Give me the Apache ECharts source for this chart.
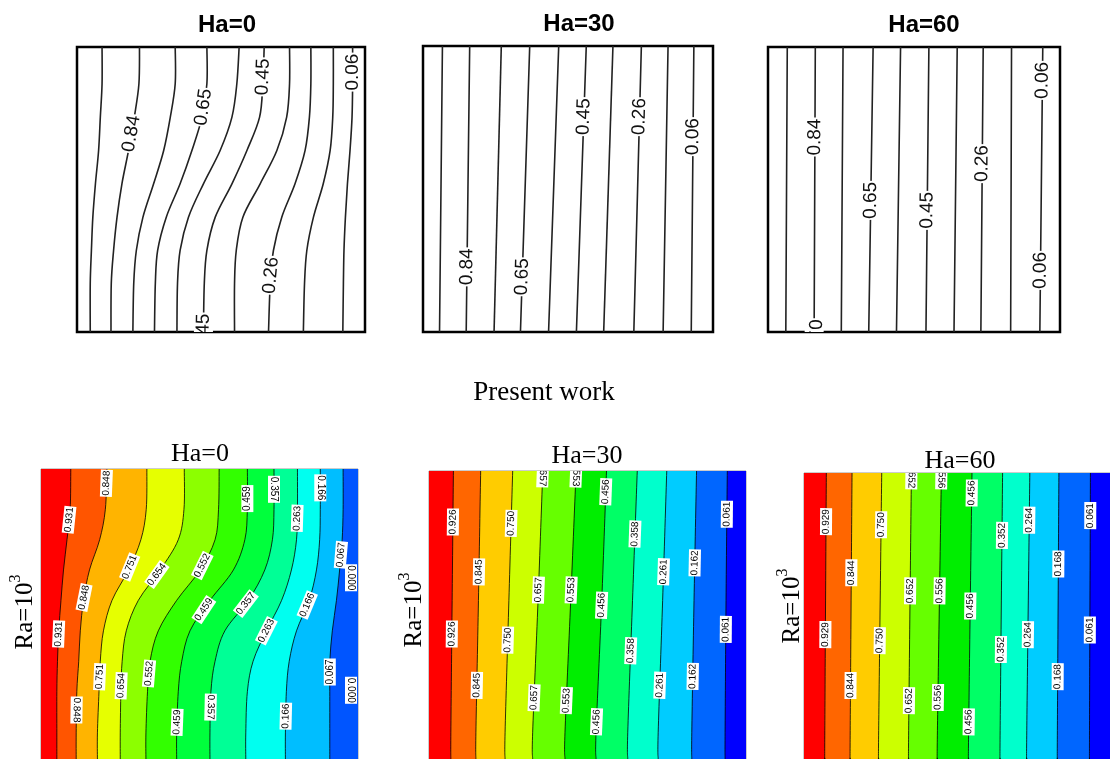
<!DOCTYPE html>
<html>
<head>
<meta charset="utf-8">
<script src="https://cdn.jsdelivr.net/npm/echarts@6/dist/echarts.min.js"></script>
<style>
html,body{margin:0;padding:0;background:#fff;}
#main{width:1110px;height:759px;}
</style>
</head>
<body>
<div id="main"></div>
<script>
// Isotherms in a square cavity: x = 0 hot wall .. 1 cold wall, y = 0 bottom .. 1 top.
// Each contour is a list of x positions at the shared y stations of its panel.

// ---- Published results (line contours) ----
const litLevels = [0.94, 0.84, 0.75, 0.65, 0.55, 0.45, 0.35, 0.26, 0.16, 0.06];

const litYs_Ha0 = [1, 0.871, 0.754, 0.637, 0.520, 0.403, 0.286, 0.170, 0];
const litXs_Ha0 = [
  [0.087, 0.087, 0.081, 0.075, 0.064, 0.055, 0.050, 0.046, 0.046],
  [0.217, 0.215, 0.199, 0.179, 0.156, 0.139, 0.127, 0.119, 0.118],
  [0.341, 0.341, 0.324, 0.301, 0.266, 0.229, 0.206, 0.197, 0.194],
  [0.451, 0.451, 0.434, 0.399, 0.358, 0.310, 0.280, 0.272, 0.269],
  [0.563, 0.555, 0.538, 0.497, 0.439, 0.387, 0.358, 0.349, 0.347],
  [0.650, 0.645, 0.634, 0.590, 0.538, 0.480, 0.451, 0.442, 0.439],
  [0.738, 0.738, 0.728, 0.694, 0.636, 0.576, 0.553, 0.547, 0.547],
  [0.812, 0.812, 0.807, 0.792, 0.757, 0.711, 0.682, 0.671, 0.665],
  [0.890, 0.890, 0.888, 0.879, 0.855, 0.821, 0.798, 0.790, 0.786],
  [0.957, 0.957, 0.955, 0.948, 0.939, 0.932, 0.927, 0.925, 0.923]
];
// [contour index, y, flipped]
const litLabels_Ha0 = [[1, 0.696, 0], [3, 0.789, 0], [5, 0.895, 0], [9, 0.912, 0], [7, 0.199, 0], [5, 0.0, 0]];

const litYs_Ha30 = [1, 0];
const litXs_Ha30 = [
  [0.067, 0.057], [0.161, 0.149], [0.270, 0.245], [0.368, 0.336], [0.468, 0.433],
  [0.563, 0.529], [0.655, 0.623], [0.753, 0.727], [0.845, 0.828], [0.934, 0.925]
];
const litLabels_Ha30 = [[1, 0.228, 0], [3, 0.193, 0], [5, 0.753, 0], [7, 0.753, 0], [9, 0.683, 0]];

const litYs_Ha60 = [1, 0];
const litXs_Ha60 = [
  [0.066, 0.061], [0.162, 0.158], [0.257, 0.251], [0.360, 0.345], [0.454, 0.440],
  [0.551, 0.541], [0.648, 0.637], [0.737, 0.729], [0.834, 0.831], [0.941, 0.931]
];
const litLabels_Ha60 = [[1, 0.684, 0], [3, 0.462, 0], [5, 0.427, 0], [7, 0.591, 0], [9, 0.883, 0], [9, 0.216, 0], [1, -0.02, 1]];

// ---- Present work (filled contours) ----
const presLevels_Ha0 = [0.931, 0.848, 0.751, 0.654, 0.552, 0.459, 0.357, 0.263, 0.166, 0.067, 0.000];
const presYs_Ha0 = [1, 0.861, 0.756, 0.652, 0.547, 0.442, 0.337, 0.232, 0.09, 0];
const presXs_Ha0 = [
  [0.094, 0.092, 0.082, 0.071, 0.063, 0.056, 0.052, 0.050, 0.050, 0.050],
  [0.208, 0.203, 0.185, 0.153, 0.134, 0.124, 0.119, 0.113, 0.111, 0.111],
  [0.334, 0.332, 0.315, 0.276, 0.224, 0.197, 0.187, 0.183, 0.178, 0.178],
  [0.452, 0.451, 0.433, 0.376, 0.307, 0.269, 0.256, 0.252, 0.250, 0.250],
  [0.562, 0.560, 0.549, 0.502, 0.428, 0.370, 0.344, 0.336, 0.331, 0.331],
  [0.651, 0.651, 0.643, 0.607, 0.533, 0.470, 0.444, 0.433, 0.428, 0.428],
  [0.735, 0.735, 0.730, 0.706, 0.654, 0.580, 0.549, 0.536, 0.533, 0.533],
  [0.809, 0.809, 0.806, 0.790, 0.759, 0.711, 0.669, 0.651, 0.646, 0.646],
  [0.881, 0.881, 0.879, 0.869, 0.846, 0.806, 0.783, 0.774, 0.771, 0.771],
  [0.953, 0.953, 0.950, 0.942, 0.932, 0.919, 0.911, 0.911, 0.911, 0.911]
];
const presLabels_Ha0 = [
  [1, 0.951, 0], [5, 0.898, 0], [6, 0.930, 1], [8, 0.935, 1],
  [0, 0.825, 0], [7, 0.830, 0], [9, 0.704, 0], [10, 0.625, 1],
  [2, 0.662, 0], [3, 0.636, 0], [4, 0.667, 0],
  [1, 0.557, 0], [5, 0.515, 0], [6, 0.536, 0], [8, 0.531, 0],
  [0, 0.431, 0], [7, 0.442, 0],
  [2, 0.284, 0], [3, 0.253, 0], [4, 0.295, 0], [9, 0.300, 0], [10, 0.237, 1],
  [1, 0.169, 1], [5, 0.127, 0], [6, 0.179, 1], [8, 0.148, 0]
];

const presLevels_Ha30 = [0.926, 0.845, 0.750, 0.657, 0.553, 0.456, 0.358, 0.261, 0.162, 0.061];
const presYs_Ha30 = [1, 0.55, 0.093, 0];
const presXs_Ha30 = [
  [0.077, 0.073, 0.069, 0.069],
  [0.163, 0.156, 0.148, 0.148],
  [0.264, 0.252, 0.240, 0.240],
  [0.359, 0.344, 0.327, 0.327],
  [0.464, 0.447, 0.429, 0.429],
  [0.560, 0.545, 0.527, 0.527],
  [0.657, 0.642, 0.627, 0.627],
  [0.750, 0.737, 0.723, 0.723],
  [0.844, 0.836, 0.829, 0.829],
  [0.941, 0.937, 0.934, 0.934]
];
const presLabels_Ha30 = [
  [0, 0.823, 0], [0, 0.434, 0], [1, 0.650, 0], [1, 0.256, 0], [2, 0.818, 0], [2, 0.413, 0],
  [3, 0.99, 1], [3, 0.587, 0], [3, 0.213, 0], [4, 0.99, 1], [4, 0.587, 0], [4, 0.203, 0],
  [5, 0.928, 0], [5, 0.534, 0], [5, 0.129, 0], [6, 0.781, 0], [6, 0.376, 0],
  [7, 0.650, 0], [7, 0.256, 0], [8, 0.681, 0], [8, 0.287, 0], [9, 0.850, 0], [9, 0.450, 0]
];

const presLevels_Ha60 = [0.929, 0.844, 0.750, 0.652, 0.556, 0.456, 0.352, 0.264, 0.168, 0.061];
const presYs_Ha60 = [1, 0.099, 0];
const presXs_Ha60 = [
  [0.073, 0.068, 0.068], [0.157, 0.151, 0.151], [0.254, 0.244, 0.244], [0.351, 0.342, 0.342],
  [0.449, 0.436, 0.436], [0.549, 0.538, 0.538], [0.649, 0.641, 0.641], [0.738, 0.728, 0.728],
  [0.833, 0.828, 0.828], [0.936, 0.933, 0.933]
];
const presLabels_Ha60 = [
  [0, 0.830, 0], [0, 0.435, 0], [1, 0.651, 0], [1, 0.257, 0], [2, 0.819, 0], [2, 0.414, 0],
  [3, 0.99, 1], [3, 0.588, 0], [3, 0.204, 0], [4, 0.99, 1], [4, 0.588, 0], [4, 0.215, 0],
  [5, 0.930, 0], [5, 0.535, 0], [5, 0.130, 0], [6, 0.782, 0], [6, 0.383, 0],
  [7, 0.835, 0], [7, 0.435, 0], [8, 0.682, 0], [8, 0.288, 0], [9, 0.851, 0], [9, 0.451, 0]
];

// Band fills, hot wall to cold wall
const fillsHa0 = ['#FF0000', '#FF5500', '#FFB400', '#E6FF00', '#8CFF00', '#32FF00', '#00FF3C', '#00FF96', '#00FFF0', '#00BEFF', '#0055FF'];
const fillsHa = ['#FF0000', '#FF6600', '#FFCC00', '#CCFF00', '#66FF00', '#00EE00', '#00FF66', '#00FFCC', '#00CCFF', '#0066FF', '#0000FF'];

const SANS = '"Liberation Sans", Arial, sans-serif';
const SERIF = '"Liberation Serif", "Times New Roman", serif';

const panels = [
  { ys: litYs_Ha0, xs: litXs_Ha0, levels: litLevels, labels: litLabels_Ha0, digits: 2, filled: false, rect: [77, 47, 288, 285] },
  { ys: litYs_Ha30, xs: litXs_Ha30, levels: litLevels, labels: litLabels_Ha30, digits: 2, filled: false, rect: [423, 46, 290, 286] },
  { ys: litYs_Ha60, xs: litXs_Ha60, levels: litLevels, labels: litLabels_Ha60, digits: 2, filled: false, rect: [768, 47, 292, 285] },
  { ys: presYs_Ha0, xs: presXs_Ha0, levels: presLevels_Ha0, labels: presLabels_Ha0, digits: 3, filled: true, fills: fillsHa0, rect: [41, 469, 317, 317] },
  { ys: presYs_Ha30, xs: presXs_Ha30, levels: presLevels_Ha30, labels: presLabels_Ha30, digits: 3, filled: true, fills: fillsHa, rect: [429, 471, 317, 317] },
  { ys: presYs_Ha60, xs: presXs_Ha60, levels: presLevels_Ha60, labels: presLabels_Ha60, digits: 3, filled: true, fills: fillsHa, rect: [804, 473, 317, 317] }
];

// Pixel points of boundary i: -1 = left wall, xs.length = right wall
function boundary(p, i, api) {
  if (i < 0) return [api.coord([0, 1]), api.coord([0, 0])];
  if (i >= p.xs.length) return [api.coord([1, 1]), api.coord([1, 0])];
  return p.ys.map((y, k) => api.coord([p.xs[i][k], y]));
}

// Smooth (Catmull-Rom) path through pixel points
function curve(pts, start) {
  let d = (start ? 'M' : 'L') + pts[0][0] + ',' + pts[0][1];
  for (let i = 0; i < pts.length - 1; i++) {
    const p0 = pts[i - 1] || pts[i], p1 = pts[i], p2 = pts[i + 1], p3 = pts[i + 2] || pts[i + 1];
    const c1 = [p1[0] + (p2[0] - p0[0]) / 6, p1[1] + (p2[1] - p0[1]) / 6];
    const c2 = [p2[0] - (p3[0] - p1[0]) / 6, p2[1] - (p3[1] - p1[1]) / 6];
    d += 'C' + c1[0] + ',' + c1[1] + ' ' + c2[0] + ',' + c2[1] + ' ' + p2[0] + ',' + p2[1];
  }
  return d;
}

function bandSeries(p, gi) {
  return {
    type: 'custom', xAxisIndex: gi, yAxisIndex: gi, clip: true, silent: true, z: 1,
    data: p.fills.map((c, i) => [i]),
    renderItem: function (params, api) {
      const i = api.value(0);
      const left = boundary(p, i - 1, api);
      const right = boundary(p, p.xs.length, api);
      const d = curve(left, true) + 'L' + right[1][0] + ',' + right[1][1] + 'L' + right[0][0] + ',' + right[0][1] + 'Z';
      return { type: 'path', shape: { pathData: d }, style: { fill: p.fills[i], stroke: 'none' } };
    }
  };
}

function lineSeries(p, gi) {
  return {
    type: 'custom', xAxisIndex: gi, yAxisIndex: gi, clip: true, silent: true, z: 2,
    data: p.xs.map((c, i) => [i]),
    renderItem: function (params, api) {
      const i = api.value(0);
      return {
        type: 'path', shape: { pathData: curve(boundary(p, i, api), true) },
        style: p.filled
          ? { fill: 'none', stroke: '#000', lineWidth: 0.8 }
          : { fill: 'none', stroke: '#222', lineWidth: 1.6 }
      };
    }
  };
}

function labelSeries(p, gi) {
  return {
    type: 'custom', xAxisIndex: gi, yAxisIndex: gi, clip: true, silent: true, z: 3,
    data: p.labels,
    renderItem: function (params, api) {
      const idx = api.value(0), y = api.value(1), flip = api.value(2);
      let pos, ang;
      if (idx >= p.xs.length) {
        pos = api.coord([1, y]);
        pos = [pos[0] - 7, pos[1]];
        ang = Math.PI / 2;
      } else {
        const ys = p.ys, xs = p.xs[idx];
        let k = 0;
        while (k < ys.length - 2 && y < ys[k + 1]) k++;
        const t = Math.max(0, Math.min(1, (ys[k] - y) / (ys[k] - ys[k + 1])));
        const x = xs[k] + t * (xs[k + 1] - xs[k]);
        pos = api.coord([x, y]);
        const up = api.coord([xs[k], ys[k]]), dn = api.coord([xs[k + 1], ys[k + 1]]);
        ang = Math.atan2(-(up[1] - dn[1]), up[0] - dn[0]);
      }
      if (flip) ang -= Math.PI;
      return {
        type: 'text', x: pos[0], y: pos[1], rotation: ang,
        style: p.filled ? {
          text: p.levels[idx].toFixed(p.digits), x: 0, y: 0, align: 'center', verticalAlign: 'middle',
          font: '10px ' + SANS, fill: '#000', backgroundColor: '#fff', padding: [1, 1, 1, 1]
        } : {
          text: p.levels[idx].toFixed(p.digits), x: 0, y: 0, align: 'center', verticalAlign: 'middle',
          font: '19px ' + SANS, fill: '#111', backgroundColor: '#fff', padding: [0, 1, 0, 1]
        }
      };
    }
  };
}

const grids = [], xAxes = [], yAxes = [], series = [];
panels.forEach((p, gi) => {
  grids.push({
    left: p.rect[0], top: p.rect[1], width: p.rect[2], height: p.rect[3],
    show: true, backgroundColor: 'transparent',
    borderColor: p.filled ? '#999' : '#000', borderWidth: p.filled ? 1 : 2.5
  });
  xAxes.push({ type: 'value', gridIndex: gi, min: 0, max: 1, show: false });
  yAxes.push({ type: 'value', gridIndex: gi, min: 0, max: 1, show: false });
  if (p.filled) series.push(bandSeries(p, gi));
  series.push(lineSeries(p, gi));
  series.push(labelSeries(p, gi));
});

function title(x, y, text, font) {
  return { type: 'text', x: x, y: y, z: 10, style: { text: text, font: font, fill: '#000', align: 'center', verticalAlign: 'middle' } };
}
function raLabel(x, y) {
  return {
    type: 'text', x: x, y: y, rotation: Math.PI / 2, z: 10,
    style: {
      text: '{a|Ra=10}{b|3}', align: 'center', verticalAlign: 'middle', fill: '#000',
      rich: {
        a: { fontFamily: SERIF, fontSize: 25, lineHeight: 34, fill: '#000' },
        b: { fontFamily: SERIF, fontSize: 16, lineHeight: 34, verticalAlign: 'top', fill: '#000' }
      }
    }
  };
}

const chart = echarts.init(document.getElementById('main'), null, { renderer: 'canvas' });
chart.setOption({
  animation: false,
  backgroundColor: '#fff',
  grid: grids,
  xAxis: xAxes,
  yAxis: yAxes,
  series: series,
  graphic: [
    title(227, 25, 'Ha=0', 'bold 24px ' + SANS),
    title(579, 24, 'Ha=30', 'bold 24px ' + SANS),
    title(924, 25, 'Ha=60', 'bold 24px ' + SANS),
    title(544, 393, 'Present work', '27px ' + SERIF),
    title(200, 454, 'Ha=0', '26px ' + SERIF),
    title(587, 456, 'Ha=30', '26px ' + SERIF),
    title(960, 461, 'Ha=60', '26px ' + SERIF),
    raLabel(25, 612),
    raLabel(414, 610),
    raLabel(792, 606)
  ]
});
</script>
</body>
</html>
